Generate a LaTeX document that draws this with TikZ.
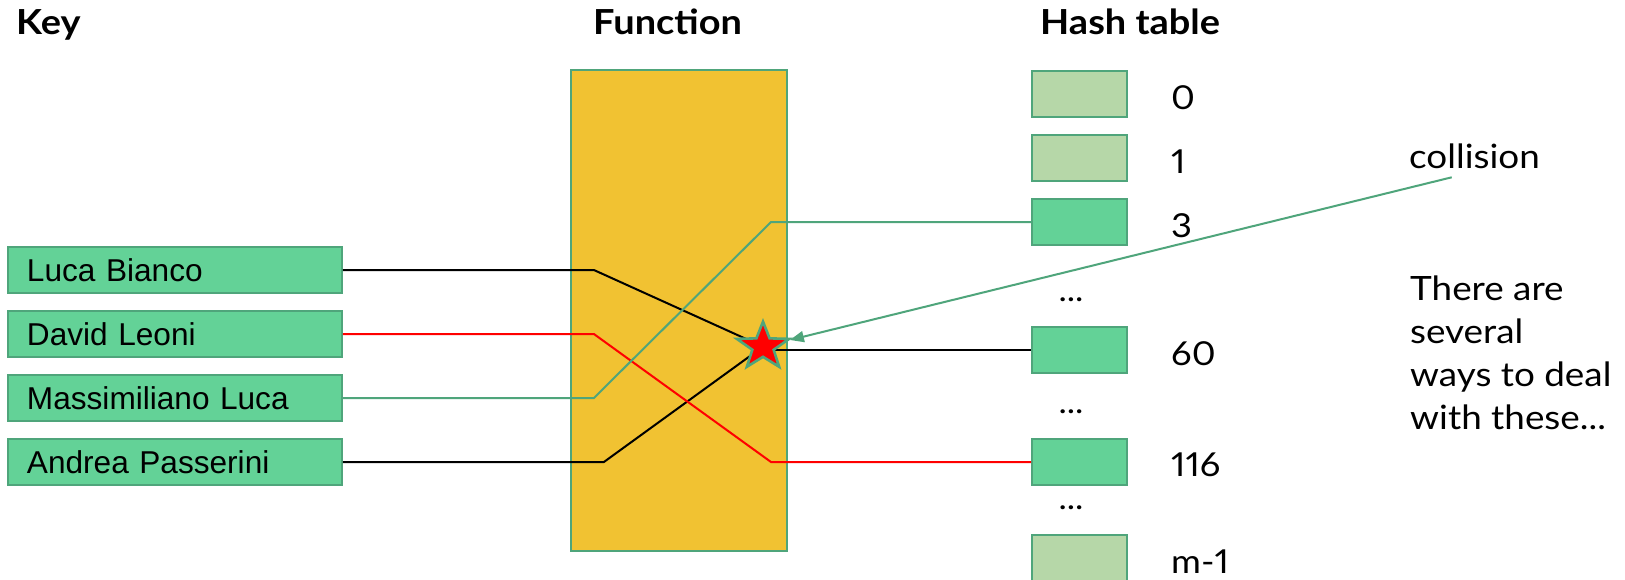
\documentclass[tikz,border=0pt]{standalone}
\usepackage{fontspec}
\usetikzlibrary{shapes.geometric,arrows.meta}
\newfontfamily\keyfont{Liberation Sans}
\newfontfamily\propfont[FakeStretch=1.1,Numbers=Proportional]{Lato}
\definecolor{keygreen}{HTML}{63D297}
\definecolor{palegreen}{HTML}{B6D7A8}
\definecolor{edgegreen}{HTML}{4FA57B}
\definecolor{fnyellow}{HTML}{F1C232}
\begin{document}
\begin{tikzpicture}[x=1pt,y=-1pt,
  keybox/.style={draw=edgegreen, line width=1.8pt, fill=keygreen,
    minimum width=334pt, minimum height=46pt, inner xsep=19pt, inner ysep=0pt,
    text width=296pt, align=left, text height=23pt, text depth=0pt,
    font=\keyfont\fontsize{31.6}{38}\selectfont},
  slotbox/.style={draw=edgegreen, line width=1.8pt,
    minimum width=95pt, minimum height=46pt, inner sep=0pt},
  usedslot/.style={slotbox, fill=keygreen},
  freeslot/.style={slotbox, fill=palegreen},
  slotlabel/.style={anchor=base west, inner sep=0pt,
    font=\propfont\fontsize{33}{40}\selectfont},
  gap/.style={anchor=base, inner sep=0pt,
    font=\propfont\fontsize{32}{38}\selectfont},
  header/.style={anchor=base west, inner sep=0pt,
    font=\propfont\bfseries\fontsize{34.5}{40}\selectfont},
  note/.style={inner sep=0pt, font=\propfont\fontsize{33.5}{43}\selectfont},
  wire/.style={line width=2pt},
]
\fill[white] (0,0) rectangle (1625,579);
\useasboundingbox (0,0) rectangle (1625,579);

% column headers
\node[header] (hkey) at (16,34) {Key};
\node[header] (hfun) at (593,34) {Function};
\node[header] (htab) at (1040,34) {Hash table};

% hash function block
\node[draw=edgegreen, line width=1.8pt, fill=fnyellow,
  minimum width=216pt, minimum height=481pt, inner sep=0pt] (fn) at (679,310.5) {};

% keys
\node[keybox] (k1) at (175,270) {Luca Bianco};
\node[keybox] (k2) at (175,334) {David Leoni};
\node[keybox] (k3) at (175,398) {Massimiliano Luca};
\node[keybox] (k4) at (175,462) {Andrea Passerini};

% table slots
\node[freeslot] (s0)   at (1079.5,93.7)  {};
\node[freeslot] (s1)   at (1079.5,158)   {};
\node[usedslot] (s3)   at (1079.5,222)   {};
\node[usedslot] (s60)  at (1079.5,349.7) {};
\node[usedslot] (s116) at (1079.5,462)   {};
\node[freeslot] (sm)   at (1079.5,558)   {};

\node[slotlabel] (l0)   at (1171,109.3) {0};
\node[slotlabel] (l1)   at (1171,173)   {1};
\node[slotlabel] (l3)   at (1171,237)   {3};
\node[slotlabel] (l60)  at (1171,365) {60};
\node[slotlabel] (l116) at (1171,476)   {116};
\node[slotlabel] (lm)   at (1171,573)   {m-1};

\node[gap] (d1) at (1071,301) {...};
\node[gap] (d2) at (1071,413.5) {...};
\node[gap] (d3) at (1071,509) {...};

% where two keys meet
\coordinate (hit) at (763,346.6);

% key -> slot wires
\draw[wire, black] (k1.east) -- ++(251,0) -- (hit);
\draw[wire, black] (k4.east) -- ++(261,0) -- (hit);
\draw[wire, black] (hit |- s60.west) -- (s60.west);
\draw[wire, red] (k2.east) -- ++(251,0) -- (771,462) -- (s116.west);
\draw[wire, edgegreen] (k3.east) -- ++(251,0) -- (771,222) -- (s3.west);

% collision marker
\node[star, star points=5, star point ratio=2.45, minimum size=50pt, inner sep=0pt,
  xscale=1.1, transform shape,
  draw=edgegreen, line width=2.6pt, fill=red] (clash) at (hit) {};

% note
\node[note, anchor=base west] (coll) at (1409,168.3) {collision};
\coordinate (ctail) at (1451.7,177.3);
\draw[wire, edgegreen, -{Triangle[length=14pt,width=11pt]}] (ctail) -- (clash);

\node[note, anchor=base west, align=left]
  (ways) at (1410,429.3) {There are\\several\\ways to deal\\with these...};
\end{tikzpicture}
\end{document}
